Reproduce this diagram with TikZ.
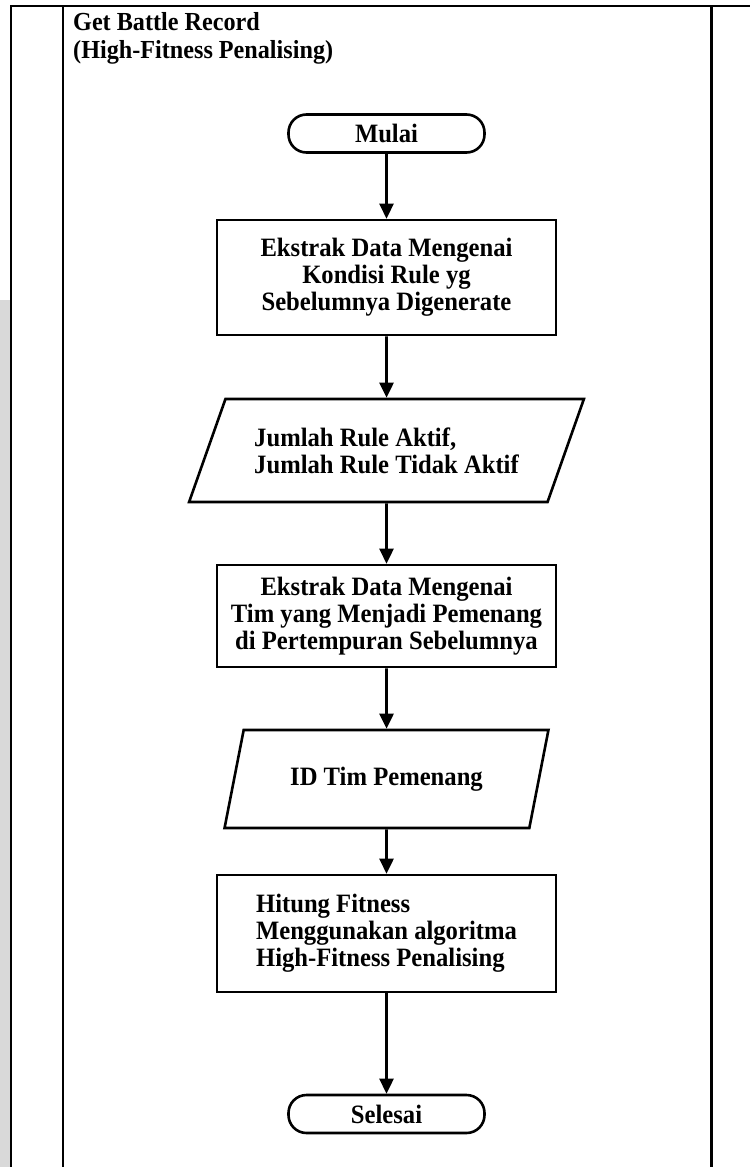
\documentclass[tikz,border=0pt]{standalone}
\usepackage{fontspec}
\setmainfont{Liberation Serif}[FakeStretch=0.93]
\usetikzlibrary{arrows.meta,shapes.geometric}
\begin{document}
\begin{tikzpicture}[x=1pt,y=-1pt,
  every node/.style={font=\fontsize{26.5}{27}\selectfont\bfseries},
  frame/.style={line width=2.6pt},
  terminal/.style={draw,line width=2.6pt,rounded corners=18pt,minimum width=196pt,minimum height=38pt,inner sep=0pt},
  process/.style={draw,line width=2.6pt,minimum width=339pt,inner sep=0pt,align=center},
  iobox/.style={draw,line width=2.6pt,trapezium,trapezium stretches=true,inner sep=0pt,align=left},
  flow/.style={line width=2.6pt,-{Triangle[length=15pt,width=14pt]}}
]
\useasboundingbox (0,0) rectangle (750,1167);

% grey margin strip and table frame
\fill[gray!30] (0,300) rectangle (11,1167);
\draw[frame] (11,1167) -- (11,6) -- (750,6);
\draw[frame] (63,6) -- (63,1167);
\draw[frame] (711.5,6) -- (711.5,1167);

% column heading
\node[anchor=north west,inner sep=0pt,align=left,font=\fontsize{26}{28.5}\selectfont\bfseries] (title) at (73,12)
  {Get Battle Record\\(High-Fitness Penalising)};

% flowchart
\node[terminal] (start) at (386.5,133.5) {Mulai};
\node[process,minimum height=115pt] (b1) at (386.5,277.5)
  {Ekstrak Data Mengenai\\Kondisi Rule yg\\Sebelumnya Digenerate};
\node[iobox,trapezium left angle=57,trapezium right angle=123,minimum width=395pt,minimum height=103pt] (p1) at (386.5,450.5)
  {Jumlah Rule Aktif,\\Jumlah Rule Tidak Aktif};
\node[process,minimum height=102pt] (b2) at (386.5,616)
  {Ekstrak Data Mengenai\\Tim yang Menjadi Pemenang\\di Pertempuran Sebelumnya};
\node[iobox,trapezium left angle=62,trapezium right angle=118,minimum width=324pt,minimum height=98pt] (p2) at (386.5,779)
  {ID Tim Pemenang};
\node[process,minimum height=117pt,align=left] (b3) at (386.5,933.5)
  {Hitung Fitness\\Menggunakan algoritma\\High-Fitness Penalising};
\node[terminal] (stop) at (386.5,1114) {Selesai};

\draw[flow] (start.south) -- (b1.north);
\draw[flow] (b1.south) -- (p1.north);
\draw[flow] (p1.south) -- (b2.north);
\draw[flow] (b2.south) -- (p2.north);
\draw[flow] (p2.south) -- (b3.north);
\draw[flow] (b3.south) -- (stop.north);
\end{tikzpicture}
\end{document}
